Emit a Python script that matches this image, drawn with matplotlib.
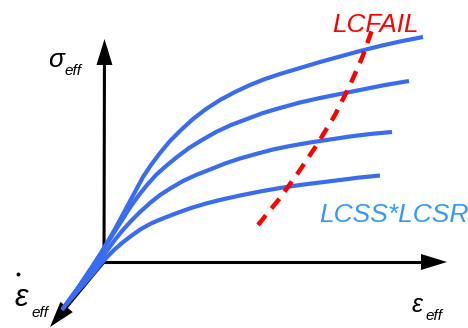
import numpy as np
import matplotlib
matplotlib.use("Agg")
import matplotlib.pyplot as plt

# Schematic flow curves: effective stress vs effective strain, one curve per strain rate.
# Coordinates are in the drawing frame (origin at the axes corner, 1 unit = 1 px).
curve1_x = [-42, -34, -26, -18, -10, -3, 4, 11, 18, 25, 32, 39, 47, 56, 66, 77,
            89, 102, 116, 131, 146, 161, 176, 196, 216, 236, 256, 276, 296, 319]
curve1_y = [-48, -37, -26, -14, -2, 9, 21, 33, 46, 59, 72, 85, 97, 109, 121, 132,
            143, 153, 162, 170, 177, 183, 188, 194, 200, 205.5, 211, 216, 220.5, 225]

curve2_x = [-40, -32, -24, -16, -8, -1, 6, 13, 20, 27, 35, 43, 52, 62, 73, 85,
            98, 112, 127, 143, 159, 176, 196, 216, 236, 256, 281, 305]
curve2_y = [-45, -34, -23, -11, 1, 12, 23, 34, 45, 56, 67, 77, 87, 96, 105, 114,
            122, 130, 137, 143, 149, 154, 159.5, 164, 168, 172, 177, 181]

curve3_x = [-38, -30, -22, -14, -6, 2, 10, 18, 27, 36, 46, 56, 67, 79, 92, 106,
            121, 136, 152, 169, 186, 206, 226, 246, 266, 288]
curve3_y = [-43, -33, -23, -12, -1, 10, 21, 31, 41, 50, 59, 67, 74, 81, 87, 92.5,
            98.5, 103.5, 108, 112.5, 116, 119.5, 122.5, 125.5, 128, 130]

curve4_x = [-36, -28, -20, -12, -4, 3, 10, 18, 27, 37, 48, 60, 73, 87, 102, 118,
            136, 156, 176, 196, 216, 236, 256, 276]
curve4_y = [-40, -31, -22, -13, -3, 5, 12, 19, 26, 33, 39, 44, 49, 54, 58.5, 62.5,
            66.5, 70.5, 74, 77, 79.5, 82, 84.5, 86.5]

# Failure curve (LCFAIL)
fail_x = [154, 176, 196, 214, 231, 246, 258, 268]
fail_y = [37, 64, 92, 119, 147, 177, 204, 232]

curves = [(curve1_x, curve1_y), (curve2_x, curve2_y),
          (curve3_x, curve3_y), (curve4_x, curve4_y)]

W, H = 468, 328
OX, OY = 104, 262  # pixel position of the axes corner

fig = plt.figure(figsize=(W / 100, H / 100), dpi=100)
ax = fig.add_axes([0, 0, 1, 1])
ax.set_xlim(-OX, W - OX)
ax.set_ylim(-(H - OY), OY)
ax.axis("off")

BLUE = "#3a6cf2"
TEXT_BLUE = "#3399ff"
RED = "#ff0000"


def axis_arrow(tip, head_len=26, half_w=8, lw=2.2):
    tip = np.asarray(tip, dtype=float)
    u = tip / np.hypot(*tip)
    n = np.array([-u[1], u[0]])
    base = tip - u * head_len
    ax.plot([0, base[0] + u[0]], [0, base[1] + u[1]], color="black", lw=lw,
            solid_capstyle="projecting", zorder=2)
    tri = np.array([tip, base + n * half_w, base - n * half_w])
    ax.fill(tri[:, 0], tri[:, 1], color="black", lw=0, zorder=2)


axis_arrow((0.5, 223))      # stress axis
axis_arrow((343, 0))        # strain axis
axis_arrow((-54, -65))      # strain-rate axis

for cx, cy in curves:
    ax.plot(cx, cy, color=BLUE, lw=3.0, solid_capstyle="butt",
            solid_joinstyle="round", zorder=3)

ax.plot(fail_x, fail_y, color=RED, lw=3.2, ls=(0, (2.8, 2.0)),
        dash_capstyle="butt", zorder=4)

font = dict(family="Liberation Sans", style="italic")

ax.text(228, 230, "LCFAIL", color=RED, fontsize=18.8, ha="left",
        va="baseline", **font)
ax.text(215, 40, "LCSS*LCSR", color=TEXT_BLUE, fontsize=19, ha="left",
        va="baseline", **font)

# axis labels
ax.text(-56, 195, "σ", fontsize=19, ha="left", va="baseline", **font)
ax.text(-40, 187, "eff", fontsize=11, ha="left", va="baseline", **font)

ax.text(-90, -44, "ε", fontsize=22, ha="left", va="baseline", **font)
ax.plot([-86], [-12], marker="o", ms=2.8, color="black", mew=0)
ax.text(-73, -55, "eff", fontsize=11, ha="left", va="baseline", **font)

ax.text(308, -50, "ε", fontsize=18, ha="left", va="baseline", **font)
ax.text(321, -58, "eff", fontsize=11, ha="left", va="baseline", **font)

fig.savefig("out.png", dpi=100)
